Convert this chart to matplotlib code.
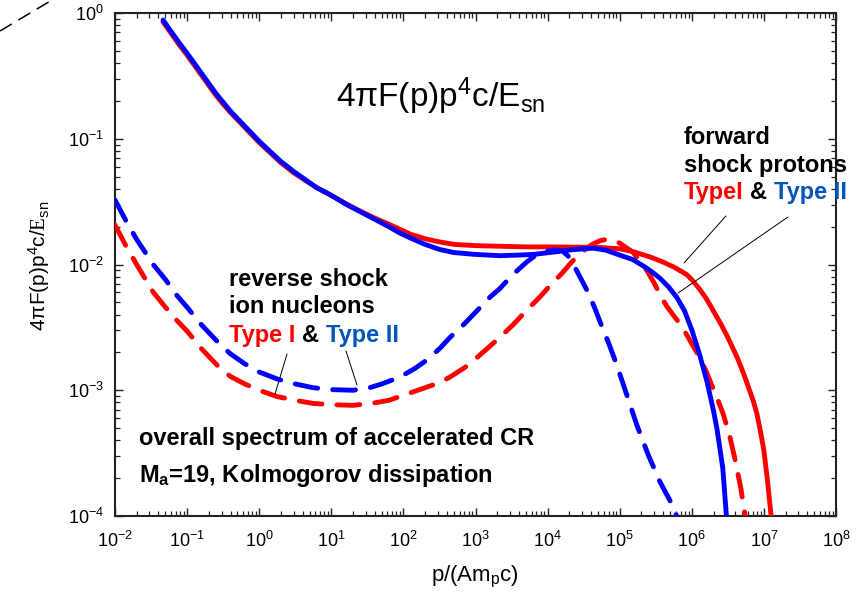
import numpy as np
import matplotlib
matplotlib.use("Agg")
import matplotlib.pyplot as plt
from matplotlib import font_manager
from matplotlib.lines import Line2D
from matplotlib.ticker import LogLocator, NullFormatter

# ---------------- data (log10 values) ----------------
# forward shock protons, Type I (red solid)
fs1_logx = [-1.334, -1.2, -1.1, -1.0, -0.9, -0.8, -0.7, -0.6, -0.5, -0.4, -0.3, -0.2, -0.1, 0.0,
            0.15, 0.3, 0.477, 0.65, 0.8, 1.0, 1.2, 1.4, 1.6, 1.8, 1.95, 2.1, 2.3, 2.5, 2.7, 3.0,
            3.34, 3.7, 4.03, 4.4, 4.73, 5.0, 5.2, 5.42, 5.6, 5.75, 5.84, 5.93, 6.0, 6.1, 6.2, 6.29,
            6.4, 6.5, 6.63, 6.7, 6.77, 6.85, 6.9, 6.95, 7.0, 7.05, 7.1, 7.13]
fs1_logy = [-0.07, -0.18, -0.26, -0.335, -0.415, -0.495, -0.575, -0.655, -0.725, -0.79, -0.85, -0.91, -0.97, -1.03,
            -1.11, -1.19, -1.27, -1.335, -1.39, -1.45, -1.515, -1.575, -1.63, -1.68, -1.72, -1.76, -1.795, -1.82, -1.84, -1.85,
            -1.855, -1.86, -1.86, -1.862, -1.865, -1.875, -1.9, -1.94, -1.98, -2.02, -2.05, -2.08, -2.12, -2.19, -2.27, -2.36,
            -2.47, -2.58, -2.74, -2.84, -2.95, -3.08, -3.18, -3.32, -3.48, -3.72, -4.0, -4.2]

# forward shock protons, Type II (blue solid)
fs2_logx = [-1.334, -1.2, -1.1, -1.0, -0.9, -0.8, -0.7, -0.6, -0.5, -0.4, -0.3, -0.2, -0.1, 0.0,
            0.15, 0.3, 0.477, 0.65, 0.8, 1.0, 1.2, 1.4, 1.6, 1.8, 1.95, 2.1, 2.3, 2.5, 2.7, 3.0,
            3.34, 3.6, 3.8, 4.1, 4.3, 4.5, 4.63, 4.8, 4.9, 5.05, 5.18, 5.35, 5.45, 5.56, 5.68, 5.79,
            5.9, 6.0, 6.1, 6.21, 6.3, 6.35, 6.43, 6.48, 6.51]
fs2_logy = [-0.056, -0.165, -0.245, -0.32, -0.40, -0.48, -0.56, -0.64, -0.71, -0.78, -0.84, -0.90, -0.96, -1.02,
            -1.10, -1.18, -1.26, -1.33, -1.39, -1.45, -1.52, -1.58, -1.64, -1.70, -1.75, -1.79, -1.84, -1.88, -1.905, -1.92,
            -1.93, -1.925, -1.92, -1.90, -1.885, -1.875, -1.87, -1.885, -1.905, -1.935, -1.96, -2.02, -2.06, -2.11, -2.18, -2.26,
            -2.37, -2.52, -2.70, -2.93, -3.16, -3.31, -3.62, -4.0, -4.2]

# reverse shock ion nucleons, Type I (red dashed)
rs1_logx = [-2.0, -1.85, -1.7, -1.47, -1.3, -1.15, -1.0, -0.8, -0.585, -0.4, -0.2, 0.0, 0.247, 0.5, 0.75,
            1.0, 1.3, 1.6, 1.8, 1.95, 2.15, 2.3, 2.5, 2.646, 2.85, 3.0, 3.2, 3.34, 3.52, 3.7, 3.89,
            4.03, 4.2, 4.35, 4.5, 4.62, 4.73, 4.82, 4.91, 5.0, 5.1, 5.18, 5.28, 5.38, 5.47, 5.56, 5.65,
            5.74, 5.82, 5.9, 6.0, 6.11, 6.2, 6.27, 6.35, 6.43, 6.52, 6.6, 6.68, 6.74, 6.77]
rs1_logy = [-1.686, -1.85, -2.0, -2.22, -2.34, -2.44, -2.53, -2.67, -2.80, -2.89, -2.95, -3.0, -3.05, -3.08, -3.105,
            -3.115, -3.12, -3.10, -3.08, -3.05, -3.01, -2.98, -2.94, -2.895, -2.82, -2.75, -2.65, -2.577, -2.48, -2.37, -2.26,
            -2.17, -2.07, -1.97, -1.89, -1.84, -1.81, -1.80, -1.805, -1.83, -1.87, -1.90, -1.97, -2.05, -2.14, -2.24, -2.33,
            -2.40, -2.46, -2.53, -2.63, -2.74, -2.85, -2.95, -3.06, -3.18, -3.35, -3.55, -3.78, -4.0, -4.1]

# reverse shock ion nucleons, Type II (blue dashed)
rs2_logx = [-2.0, -1.85, -1.7, -1.47, -1.3, -1.15, -1.0, -0.8, -0.585, -0.4, -0.2, 0.0, 0.247, 0.5, 0.75,
            1.0, 1.3, 1.5, 1.7, 1.95, 2.15, 2.3, 2.5, 2.646, 2.85, 3.0, 3.2, 3.34, 3.5, 3.71, 3.85,
            3.96, 4.1, 4.2, 4.28, 4.35, 4.45, 4.56, 4.65, 4.73, 4.85, 4.96, 5.1, 5.24, 5.4, 5.56, 5.7,
            5.79, 5.82]
rs2_logy = [-1.487, -1.65, -1.80, -2.00, -2.12, -2.24, -2.34, -2.48, -2.61, -2.71, -2.79, -2.855, -2.91, -2.95, -2.98,
            -2.995, -3.0, -2.985, -2.95, -2.895, -2.83, -2.77, -2.67, -2.58, -2.47, -2.38, -2.26, -2.19, -2.09, -1.98, -1.92,
            -1.895, -1.885, -1.89, -1.93, -1.99, -2.10, -2.22, -2.34, -2.46, -2.63, -2.80, -3.04, -3.28, -3.52, -3.73, -3.88,
            -4.0, -4.05]

x_ticks_exp = list(range(-2, 9))
y_ticks_exp = list(range(-4, 1))

RED = "#ff0000"
BLUE = "#0000ff"
TXT_BLUE = "#0055bb"

# ---------------- fonts ----------------
names = {f.name for f in font_manager.fontManager.ttflist}
NARROW = "Liberation Sans Narrow" if "Liberation Sans Narrow" in names else None

plt.rcParams["font.family"] = ["Liberation Sans", "DejaVu Sans"]
plt.rcParams["mathtext.fontset"] = "custom"
plt.rcParams["mathtext.rm"] = "Liberation Sans"
plt.rcParams["mathtext.it"] = "Liberation Sans"
plt.rcParams["mathtext.bf"] = "Liberation Sans:bold"
plt.rcParams["mathtext.sf"] = "Liberation Serif"
plt.rcParams["axes.unicode_minus"] = False

fig = plt.figure(figsize=(8.63, 6.0), dpi=100)
L, R, B, T = 115, 836, 516, 13
W, H = 863, 600
ax = fig.add_axes([L / W, 1 - B / H, (R - L) / W, (B - T) / H])

def p(v):
    return 10.0 ** np.asarray(v)

lw = 3.5
dash = (4.7, 3.1)
ax.plot(p(fs1_logx), p(fs1_logy), color=RED, lw=lw, solid_capstyle="round", solid_joinstyle="round", zorder=3)
ax.plot(p(rs1_logx), p(rs1_logy), color=RED, lw=lw, dashes=dash, dash_capstyle="round", zorder=3)
ax.plot(p(fs2_logx), p(fs2_logy), color=BLUE, lw=lw, solid_capstyle="round", solid_joinstyle="round", zorder=4)
ax.plot(p(rs2_logx), p(rs2_logy), color=BLUE, lw=lw, dashes=dash, dash_capstyle="round", zorder=4)

ax.set_xscale("log")
ax.set_yscale("log")
ax.set_xlim(10.0 ** x_ticks_exp[0], 10.0 ** x_ticks_exp[-1])
ax.set_ylim(10.0 ** y_ticks_exp[0], 10.0 ** y_ticks_exp[-1])
ax.set_xticks([10.0 ** e for e in x_ticks_exp])
ax.set_yticks([10.0 ** e for e in y_ticks_exp])
ax.set_xticklabels([r"$\mathdefault{10^{%d}}$" % e for e in x_ticks_exp])
ax.set_yticklabels([r"$\mathdefault{10^{%d}}$" % e for e in y_ticks_exp])
ax.xaxis.set_minor_locator(LogLocator(base=10, subs=np.arange(2, 10), numticks=100))
ax.yaxis.set_minor_locator(LogLocator(base=10, subs=np.arange(2, 10), numticks=100))
ax.xaxis.set_minor_formatter(NullFormatter())
ax.yaxis.set_minor_formatter(NullFormatter())
ax.tick_params(which="both", direction="in", top=True, right=True, color="#222222")
ax.tick_params(which="major", length=6, width=1.0, labelsize=13)
ax.tick_params(which="minor", length=3.5, width=0.9)
ax.tick_params(axis="x", which="major", pad=11)
ax.tick_params(axis="y", which="major", pad=8)
for s in ax.spines.values():
    s.set_linewidth(1.5)
    s.set_color("#222222")

ax.set_xlabel(r"$\mathdefault{p/(Am_pc)}$", fontsize=16)
ax.xaxis.set_label_coords(0.499, -0.095)
ax.set_ylabel(r"$\mathdefault{4\pi F(p)p^4c/\mathsf{E}_{sn}}$", fontsize=15)
ax.yaxis.set_label_coords(-0.088, 0.497)

# big formula inside the axes
ax.text(0.3065, 0.813, r"$\mathdefault{4\pi F(p)p^4c/E_{sn}}$", transform=ax.transAxes,
        fontsize=24, ha="left", va="baseline")

def fx(px):
    return (px - L) / (R - L)

def fy(py):
    return (B - py) / (B - T)

renderer = fig.canvas.get_renderer()

def colored_line(x, y, pieces, size, family=None):
    xc = x
    kw = dict(fontsize=size, fontweight="bold", ha="left", va="baseline", transform=ax.transAxes)
    if family:
        kw["family"] = family
    gap_px = 0.28 * size * fig.dpi / 72.0
    for s, c in pieces:
        t = ax.text(xc, y, s, color=c, **kw)
        bb = t.get_window_extent(renderer)
        xc = ax.transAxes.inverted().transform((bb.x1 + gap_px, bb.y0))[0]

fs_size = 17
colored_line(fx(684), fy(144), [("forward", "black")], fs_size)
colored_line(fx(684), fy(172), [("shock protons", "black")], fs_size)
colored_line(fx(684), fy(199), [("TypeI", RED), ("&", "black"), ("Type II", TXT_BLUE)], fs_size)

colored_line(fx(229), fy(286), [("reverse shock", "black")], fs_size)
colored_line(fx(229), fy(313), [("ion nucleons", "black")], fs_size)
colored_line(fx(229), fy(342), [("Type I", RED), ("&", "black"), ("Type II", TXT_BLUE)], fs_size)

if NARROW:
    bkw = dict(fontsize=20, fontweight="bold", family=[NARROW, "Liberation Sans"])
else:
    bkw = dict(fontsize=17, fontweight="bold")
ax.text(fx(139), fy(445), "overall spectrum of accelerated CR", transform=ax.transAxes,
        ha="left", va="baseline", **bkw)
if NARROW:
    plt.rcParams["mathtext.rm"] = NARROW + ":bold"
ax.text(fx(139), fy(482), "M$_{\\mathdefault{a}}$=19, Kolmogorov dissipation", transform=ax.transAxes,
        ha="left", va="baseline", **bkw)

# leader lines (data coordinates, log10)
leaders = [((5.892, -1.988), (6.474, -1.614)),
           ((5.809, -2.227), (7.334, -1.622)),
           ((0.219, -3.030), (0.386, -2.712)),
           ((1.356, -2.958), (1.204, -2.688))]
for (a, b) in leaders:
    ax.annotate("", xy=(10 ** a[0], 10 ** a[1]), xytext=(10 ** b[0], 10 ** b[1]),
                arrowprops=dict(arrowstyle="-", color="black", lw=0.7, shrinkA=0, shrinkB=0))

# stray dashed stroke at the top-left corner of the original
fig.add_artist(Line2D([0, 52 / W], [1 - 31 / H, 1.0], transform=fig.transFigure,
                      color="black", lw=1.1, dashes=(9, 5)))

fig.savefig("out.png", dpi=100)
